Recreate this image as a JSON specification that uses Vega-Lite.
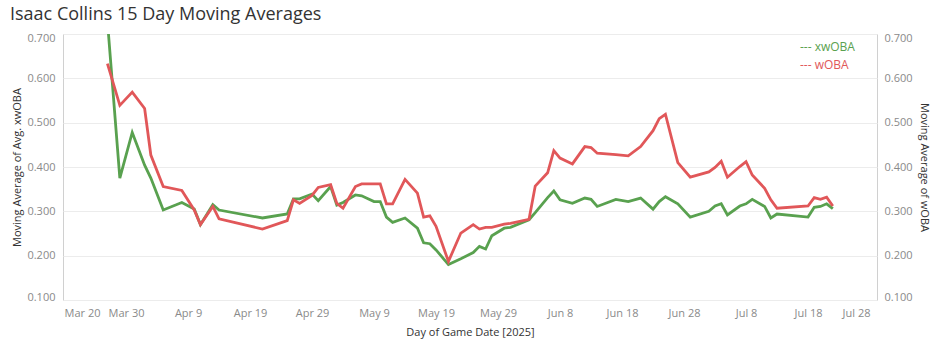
{
  "$schema": "https://vega.github.io/schema/vega-lite/v6.json",
  "width": 814,
  "height": 266,
  "autosize": {"type": "none"},
  "padding": {"left": 63, "top": 34, "right": 60, "bottom": 52},
  "background": "white",
  "config": {
    "font": "Open Sans",
    "view": {"stroke": "#d0d0d0", "strokeWidth": 1},
    "axis": {
      "labelFont": "Open Sans",
      "labelFontSize": 11,
      "labelColor": "#8a8a8a",
      "titleFont": "Open Sans",
      "titleFontSize": 11,
      "titleFontWeight": "normal",
      "titleColor": "#333333",
      "ticks": false,
      "domain": false,
      "grid": false
    }
  },
  "title": {
    "text": "Isaac Collins 15 Day Moving Averages",
    "anchor": "start",
    "frame": "group",
    "dx": -53,
    "offset": 8,
    "fontSize": 18,
    "font": "Open Sans",
    "fontWeight": "normal",
    "color": "#333333"
  },
  "data": {
    "values": [
      {"date": "2025-03-27T00:00:00", "xwOBA": 0.73, "wOBA": 0.633},
      {"date": "2025-03-29T00:00:00", "xwOBA": 0.375, "wOBA": 0.539},
      {"date": "2025-03-31T00:00:00", "xwOBA": 0.478, "wOBA": 0.569},
      {"date": "2025-04-02T00:00:00", "xwOBA": 0.404, "wOBA": 0.532},
      {"date": "2025-04-03T00:00:00", "xwOBA": 0.375, "wOBA": 0.427},
      {"date": "2025-04-05T00:00:00", "xwOBA": 0.303, "wOBA": 0.356},
      {"date": "2025-04-08T00:00:00", "xwOBA": 0.32, "wOBA": 0.347},
      {"date": "2025-04-10T00:00:00", "xwOBA": 0.305, "wOBA": 0.303},
      {"date": "2025-04-11T00:00:00", "xwOBA": 0.27, "wOBA": 0.27},
      {"date": "2025-04-13T00:00:00", "xwOBA": 0.315, "wOBA": 0.311},
      {"date": "2025-04-14T00:00:00", "xwOBA": 0.303, "wOBA": 0.283},
      {"date": "2025-04-21T00:00:00", "xwOBA": 0.285, "wOBA": 0.26},
      {"date": "2025-04-25T00:00:00", "xwOBA": 0.294, "wOBA": 0.279},
      {"date": "2025-04-26T00:00:00", "xwOBA": 0.328, "wOBA": 0.326},
      {"date": "2025-04-27T00:00:00", "xwOBA": 0.328, "wOBA": 0.318},
      {"date": "2025-04-29T00:00:00", "xwOBA": 0.339, "wOBA": 0.336},
      {"date": "2025-04-30T00:00:00", "xwOBA": 0.324, "wOBA": 0.354},
      {"date": "2025-05-02T00:00:00", "xwOBA": 0.356, "wOBA": 0.36},
      {"date": "2025-05-03T00:00:00", "xwOBA": 0.314, "wOBA": 0.318},
      {"date": "2025-05-04T00:00:00", "xwOBA": 0.32, "wOBA": 0.307},
      {"date": "2025-05-06T00:00:00", "xwOBA": 0.337, "wOBA": 0.356},
      {"date": "2025-05-07T00:00:00", "xwOBA": 0.335, "wOBA": 0.362},
      {"date": "2025-05-09T00:00:00", "xwOBA": 0.322, "wOBA": 0.362},
      {"date": "2025-05-10T00:00:00", "xwOBA": 0.322, "wOBA": 0.362},
      {"date": "2025-05-11T00:00:00", "xwOBA": 0.287, "wOBA": 0.317},
      {"date": "2025-05-12T00:00:00", "xwOBA": 0.275, "wOBA": 0.317},
      {"date": "2025-05-14T00:00:00", "xwOBA": 0.285, "wOBA": 0.372},
      {"date": "2025-05-16T00:00:00", "xwOBA": 0.262, "wOBA": 0.341},
      {"date": "2025-05-17T00:00:00", "xwOBA": 0.229, "wOBA": 0.287},
      {"date": "2025-05-18T00:00:00", "xwOBA": 0.227, "wOBA": 0.29},
      {"date": "2025-05-19T00:00:00", "xwOBA": 0.213, "wOBA": 0.266},
      {"date": "2025-05-21T00:00:00", "xwOBA": 0.18, "wOBA": 0.187},
      {"date": "2025-05-23T00:00:00", "xwOBA": 0.193, "wOBA": 0.251},
      {"date": "2025-05-25T00:00:00", "xwOBA": 0.207, "wOBA": 0.27},
      {"date": "2025-05-26T00:00:00", "xwOBA": 0.221, "wOBA": 0.26},
      {"date": "2025-05-27T00:00:00", "xwOBA": 0.215, "wOBA": 0.264},
      {"date": "2025-05-28T00:00:00", "xwOBA": 0.245, "wOBA": 0.264},
      {"date": "2025-05-30T00:00:00", "xwOBA": 0.262, "wOBA": 0.271},
      {"date": "2025-05-31T00:00:00", "xwOBA": 0.264, "wOBA": 0.273},
      {"date": "2025-06-03T00:00:00", "xwOBA": 0.281, "wOBA": 0.282},
      {"date": "2025-06-04T00:00:00", "xwOBA": 0.297, "wOBA": 0.357},
      {"date": "2025-06-06T00:00:00", "xwOBA": 0.331, "wOBA": 0.387},
      {"date": "2025-06-07T00:00:00", "xwOBA": 0.346, "wOBA": 0.437},
      {"date": "2025-06-08T00:00:00", "xwOBA": 0.326, "wOBA": 0.42},
      {"date": "2025-06-10T00:00:00", "xwOBA": 0.318, "wOBA": 0.407},
      {"date": "2025-06-12T00:00:00", "xwOBA": 0.33, "wOBA": 0.446},
      {"date": "2025-06-13T00:00:00", "xwOBA": 0.327, "wOBA": 0.444},
      {"date": "2025-06-14T00:00:00", "xwOBA": 0.311, "wOBA": 0.431},
      {"date": "2025-06-17T00:00:00", "xwOBA": 0.327, "wOBA": 0.428},
      {"date": "2025-06-19T00:00:00", "xwOBA": 0.322, "wOBA": 0.425},
      {"date": "2025-06-21T00:00:00", "xwOBA": 0.33, "wOBA": 0.446},
      {"date": "2025-06-23T00:00:00", "xwOBA": 0.305, "wOBA": 0.482},
      {"date": "2025-06-24T00:00:00", "xwOBA": 0.322, "wOBA": 0.509},
      {"date": "2025-06-25T00:00:00", "xwOBA": 0.333, "wOBA": 0.519},
      {"date": "2025-06-27T00:00:00", "xwOBA": 0.317, "wOBA": 0.41},
      {"date": "2025-06-29T00:00:00", "xwOBA": 0.287, "wOBA": 0.377},
      {"date": "2025-07-02T00:00:00", "xwOBA": 0.3, "wOBA": 0.389},
      {"date": "2025-07-03T00:00:00", "xwOBA": 0.312, "wOBA": 0.399},
      {"date": "2025-07-04T00:00:00", "xwOBA": 0.317, "wOBA": 0.413},
      {"date": "2025-07-05T00:00:00", "xwOBA": 0.292, "wOBA": 0.377},
      {"date": "2025-07-07T00:00:00", "xwOBA": 0.312, "wOBA": 0.401},
      {"date": "2025-07-08T00:00:00", "xwOBA": 0.317, "wOBA": 0.412},
      {"date": "2025-07-09T00:00:00", "xwOBA": 0.327, "wOBA": 0.382},
      {"date": "2025-07-11T00:00:00", "xwOBA": 0.311, "wOBA": 0.352},
      {"date": "2025-07-12T00:00:00", "xwOBA": 0.285, "wOBA": 0.326},
      {"date": "2025-07-13T00:00:00", "xwOBA": 0.294, "wOBA": 0.307},
      {"date": "2025-07-18T00:00:00", "xwOBA": 0.287, "wOBA": 0.312},
      {"date": "2025-07-19T00:00:00", "xwOBA": 0.309, "wOBA": 0.331},
      {"date": "2025-07-20T00:00:00", "xwOBA": 0.311, "wOBA": 0.327},
      {"date": "2025-07-21T00:00:00", "xwOBA": 0.317, "wOBA": 0.332},
      {"date": "2025-07-22T00:00:00", "xwOBA": 0.306, "wOBA": 0.312}
    ]
  },
  "encoding": {
    "x": {
      "field": "date",
      "type": "temporal",
      "scale": {
        "domain": [
          {"year": 2025, "month": 3, "date": 19, "hours": 20},
          {"year": 2025, "month": 7, "date": 29, "hours": 3}
        ]
      },
      "axis": {
        "title": "Day of Game Date [2025]",
        "format": "%b %-d",
        "values": [
          {"year": 2025, "month": 3, "date": 20},
          {"year": 2025, "month": 3, "date": 30},
          {"year": 2025, "month": 4, "date": 9},
          {"year": 2025, "month": 4, "date": 19},
          {"year": 2025, "month": 4, "date": 29},
          {"year": 2025, "month": 5, "date": 9},
          {"year": 2025, "month": 5, "date": 19},
          {"year": 2025, "month": 5, "date": 29},
          {"year": 2025, "month": 6, "date": 8},
          {"year": 2025, "month": 6, "date": 18},
          {"year": 2025, "month": 6, "date": 28},
          {"year": 2025, "month": 7, "date": 8},
          {"year": 2025, "month": 7, "date": 18},
          {"year": 2025, "month": 7, "date": 28}
        ],
        "labelFlush": 10,
        "labelPadding": 7,
        "titlePadding": 8,
        "labelOverlap": false
      }
    }
  },
  "layer": [
    {
      "mark": {"type": "line", "clip": true, "strokeWidth": 2.8},
      "encoding": {
        "y": {
          "field": "xwOBA",
          "type": "quantitative",
          "scale": {"domain": [0.1, 0.7], "nice": false, "zero": false},
          "axis": {
            "orient": "left",
            "title": "Moving Average of Avg. xwOBA",
            "values": [0.1, 0.2, 0.3, 0.4, 0.5, 0.6, 0.7],
            "format": ".3f",
            "grid": true,
            "gridColor": "#ececec",
            "labelPadding": 8,
            "labelFlush": true,
            "labelFlushOffset": 2,
            "titlePadding": 4
          }
        },
        "color": {
          "datum": "xwOBA",
          "type": "nominal",
          "scale": {"domain": ["xwOBA", "wOBA"], "range": ["#59a14f", "#e15759"]},
          "legend": {
            "orient": "none",
            "legendX": 725,
            "legendY": 7,
            "title": null,
            "labelExpr": "'--- ' + datum.label",
            "labelFont": "Open Sans",
            "labelFontSize": 12,
            "labelColor": {"expr": "datum.value == 'xwOBA' ? '#59a14f' : '#e15759'"},
            "symbolOpacity": 0,
            "symbolSize": 0,
            "symbolStrokeWidth": 0,
            "labelOffset": 0,
            "rowPadding": 6
          }
        }
      }
    },
    {
      "mark": {"type": "line", "clip": true, "strokeWidth": 2.8},
      "encoding": {
        "y": {
          "field": "wOBA",
          "type": "quantitative",
          "scale": {"domain": [0.1, 0.7], "nice": false, "zero": false},
          "axis": {
            "orient": "right",
            "title": "Moving Average of wOBA",
            "values": [0.1, 0.2, 0.3, 0.4, 0.5, 0.6, 0.7],
            "format": ".3f",
            "grid": false,
            "labelPadding": 7,
            "labelFlush": true,
            "labelFlushOffset": 2,
            "titlePadding": 6
          }
        },
        "color": {"datum": "wOBA", "type": "nominal"}
      }
    }
  ],
  "resolve": {"scale": {"y": "independent"}}
}
